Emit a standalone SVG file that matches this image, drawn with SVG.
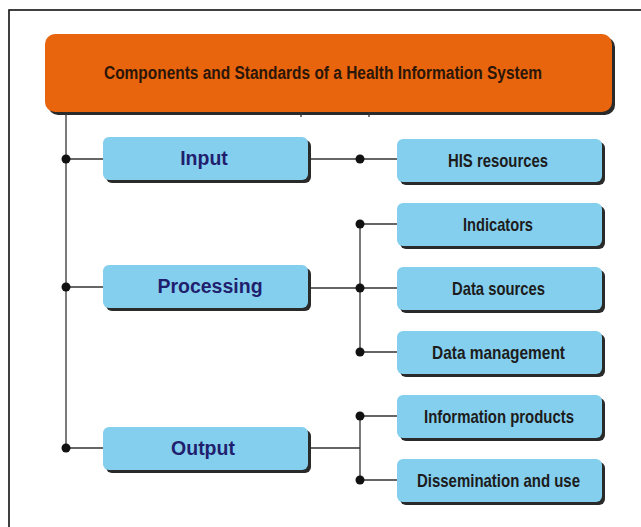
<svg xmlns="http://www.w3.org/2000/svg" width="641" height="527" viewBox="0 0 641 527">
  <defs>
    <style>
      .frame { fill: none; stroke: #111; stroke-width: 1.6; }
      .shadow { fill: #2a2a2a; }
      .title { fill: #e8650e; }
      .box { fill: #85cfee; }
      .wire { fill: none; stroke: #333; stroke-width: 1.3; }
      .dot { fill: #111; }
      .ttl { font-family: "Liberation Sans", Arial, sans-serif; font-weight: bold; font-size: 18px; fill: #2b1608; }
      .main { font-family: "Liberation Sans", Arial, sans-serif; font-weight: bold; font-size: 19.5px; fill: #1f1f6e; text-anchor: middle; }
      .sub { font-family: "Liberation Sans", Arial, sans-serif; font-weight: bold; font-size: 19px; fill: #1c1c1c; }
    </style>
  </defs>

  <rect class="frame" x="9" y="10" width="700" height="600"/>

  <!-- header -->
  <g id="header">
    <rect class="shadow" x="48" y="37" width="567" height="78" rx="10"/>
    <rect class="title" x="45" y="34" width="567" height="78" rx="10"/>
    <text class="ttl" x="104" y="79" textLength="438" lengthAdjust="spacingAndGlyphs">Components and Standards of a Health Information System</text>
  </g>

  <!-- connectors -->
  <g id="connectors">
    <path class="wire" d="M66 112 V448"/>
    <path class="wire" d="M301 112 V117 M369 112 V117"/>
    <path class="wire" d="M66 159 H103 M66 287 H103 M66 448 H103"/>
    <path class="wire" d="M308 159 H397"/>
    <path class="wire" d="M308 288 H360 M360 224 V352 M360 224 H397 M360 288 H397 M360 352 H397"/>
    <path class="wire" d="M308 448 H360 M360 416 V480 M360 416 H397 M360 480 H397"/>
    <circle class="dot" cx="66" cy="159" r="4.5"/>
    <circle class="dot" cx="66" cy="287" r="4.5"/>
    <circle class="dot" cx="66" cy="448" r="4.5"/>
    <circle class="dot" cx="360" cy="159" r="4.5"/>
    <circle class="dot" cx="360" cy="224" r="4.5"/>
    <circle class="dot" cx="360" cy="288" r="4.5"/>
    <circle class="dot" cx="360" cy="352" r="4.5"/>
    <circle class="dot" cx="360" cy="416" r="4.5"/>
    <circle class="dot" cx="360" cy="480" r="4.5"/>
  </g>

  <!-- components -->
  <g id="input">
    <rect class="shadow" x="106" y="140" width="205" height="43" rx="6"/>
    <rect class="box" x="103" y="137" width="205" height="43" rx="6"/>
    <text class="main" x="204" y="165">Input</text>
  </g>
  <g id="processing">
    <rect class="shadow" x="106" y="268" width="205" height="43" rx="6"/>
    <rect class="box" x="103" y="265" width="205" height="43" rx="6"/>
    <text class="main" x="210" y="293">Processing</text>
  </g>
  <g id="output">
    <rect class="shadow" x="106" y="430" width="205" height="43" rx="6"/>
    <rect class="box" x="103" y="427" width="205" height="43" rx="6"/>
    <text class="main" x="203" y="455">Output</text>
  </g>

  <!-- standards -->
  <g id="his-resources">
    <rect class="shadow" x="400" y="142" width="205" height="43" rx="6"/>
    <rect class="box" x="397" y="139" width="205" height="43" rx="6"/>
    <text class="sub" x="448" y="167" textLength="100" lengthAdjust="spacingAndGlyphs">HIS resources</text>
  </g>
  <g id="indicators">
    <rect class="shadow" x="400" y="206" width="205" height="43" rx="6"/>
    <rect class="box" x="397" y="203" width="205" height="43" rx="6"/>
    <text class="sub" x="463" y="231" textLength="70" lengthAdjust="spacingAndGlyphs">Indicators</text>
  </g>
  <g id="data-sources">
    <rect class="shadow" x="400" y="270" width="205" height="43" rx="6"/>
    <rect class="box" x="397" y="267" width="205" height="43" rx="6"/>
    <text class="sub" x="452" y="295" textLength="93" lengthAdjust="spacingAndGlyphs">Data sources</text>
  </g>
  <g id="data-management">
    <rect class="shadow" x="400" y="334" width="205" height="43" rx="6"/>
    <rect class="box" x="397" y="331" width="205" height="43" rx="6"/>
    <text class="sub" x="432" y="359" textLength="133" lengthAdjust="spacingAndGlyphs">Data management</text>
  </g>
  <g id="information-products">
    <rect class="shadow" x="400" y="398" width="205" height="43" rx="6"/>
    <rect class="box" x="397" y="395" width="205" height="43" rx="6"/>
    <text class="sub" x="424" y="423" textLength="150" lengthAdjust="spacingAndGlyphs">Information products</text>
  </g>
  <g id="dissemination">
    <rect class="shadow" x="400" y="462" width="205" height="43" rx="6"/>
    <rect class="box" x="397" y="459" width="205" height="43" rx="6"/>
    <text class="sub" x="417" y="487" textLength="163" lengthAdjust="spacingAndGlyphs">Dissemination and use</text>
  </g>
</svg>
